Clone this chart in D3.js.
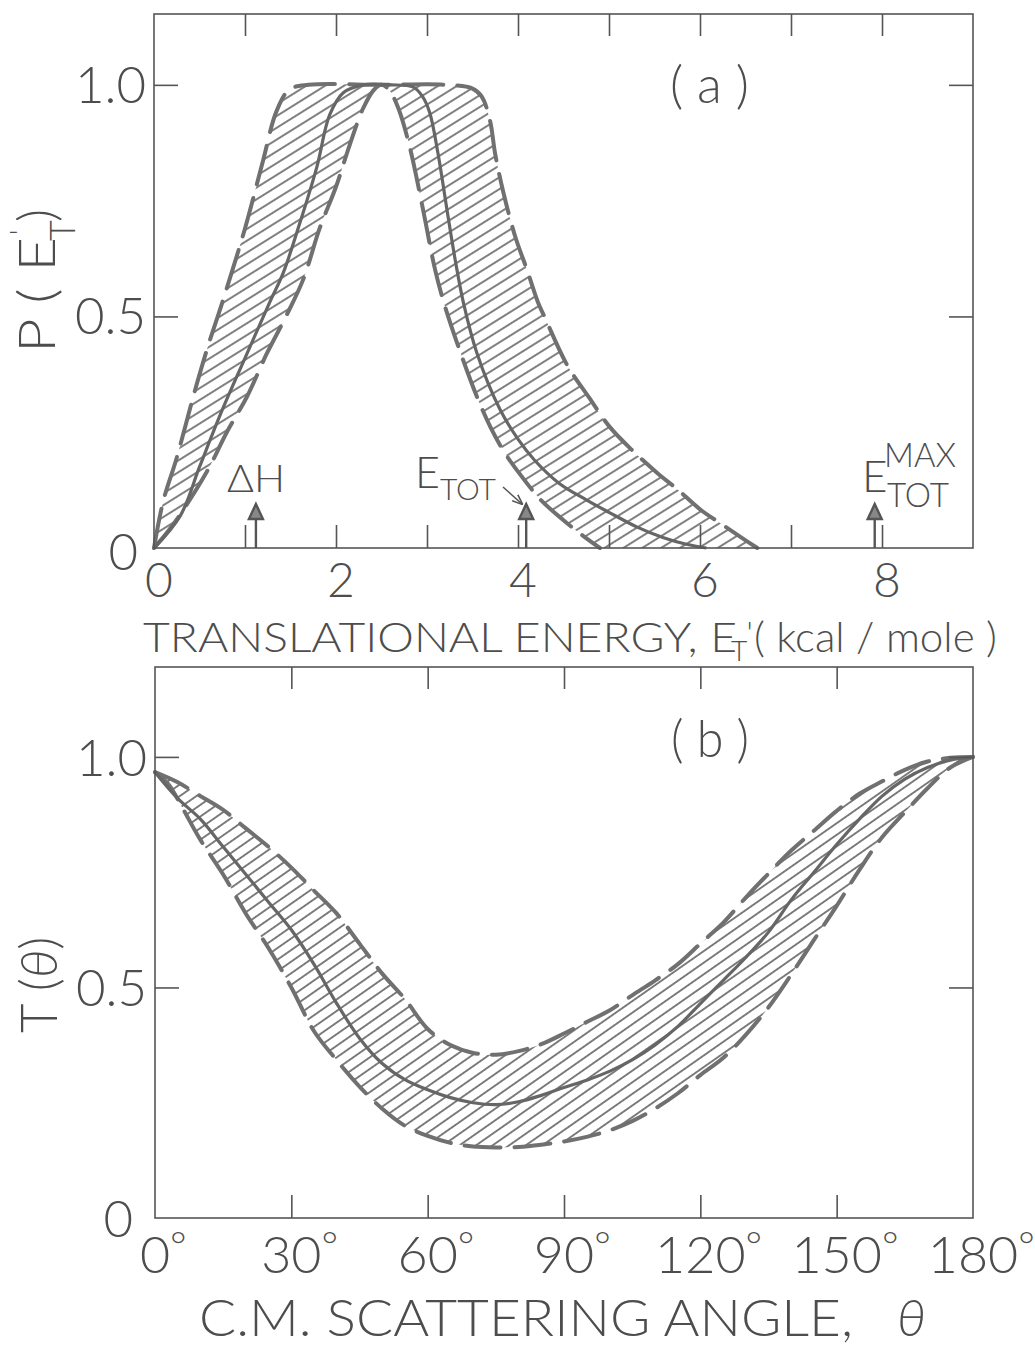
<!DOCTYPE html>
<html>
<head>
<meta charset="utf-8">
<title>P(E'T) and T(theta)</title>
<script src="https://cdn.jsdelivr.net/npm/d3@7"></script>
<style>
  html, body { margin: 0; padding: 0; background: #fff; }
  svg { display: block; }
  text { font-family: "Lato", "Open Sans", sans-serif; font-weight: 300; fill: #4d4d4d; }
  .frame { fill: none; stroke: #555; stroke-width: 1.6; }
  .tick line { stroke: #555; stroke-width: 1.6; }
  .domain { display: none; }
  .bound { fill: none; stroke: #707070; stroke-width: 4; stroke-linecap: round; }
  .best { fill: none; stroke: #666; stroke-width: 3.2; }
  .arrow { stroke: #555; stroke-width: 2.4; fill: #888; }
</style>
</head>
<body>
<svg id="chart" width="1035" height="1349"></svg>
<script>
/*
  two stacked panels:
  (a) P(E'T) vs translational energy, hatched band between two dashed bounds + best fit
  (b) T(theta) vs c.m. scattering angle, same style
*/

// ---- panel (a) data ----
var energyTicks = [0, 2, 4, 6, 8];
var energyMinor = [1, 2, 3, 4, 5, 6, 7, 8];
var probTicks = [0.5, 1.0];
var probLabels = [0, 0.5, 1.0];
// [E'T, P] upper (outer) dashed bound
var pOuter = [[0, 0], [0.1, 0.1], [0.25, 0.195], [0.45, 0.34], [0.6, 0.44], [0.75, 0.53],
  [1.0, 0.69], [1.19, 0.83], [1.35, 0.945], [1.49, 0.99], [1.7, 1.0], [2.5, 1.0], [3.22, 1.0],
  [3.5, 0.992], [3.6, 0.975], [3.69, 0.925], [3.75, 0.85], [3.84, 0.767], [3.97, 0.672],
  [4.1, 0.6], [4.22, 0.53], [4.29, 0.5], [4.54, 0.395], [4.78, 0.325], [5.01, 0.261],
  [5.25, 0.212], [5.53, 0.162], [5.75, 0.127], [6.01, 0.082], [6.25, 0.05], [6.46, 0.022], [6.63, 0]];
// [E'T, P] lower (inner) dashed bound
var pInner = [[0, 0], [0.15, 0.035], [0.32, 0.082], [0.59, 0.168], [0.8, 0.25], [1.02, 0.326],
  [1.24, 0.42], [1.45, 0.5], [1.64, 0.58], [1.82, 0.69], [2.0, 0.78], [2.15, 0.87], [2.3, 0.95],
  [2.42, 0.99], [2.5, 1.0], [2.58, 0.99], [2.68, 0.952], [2.81, 0.866], [2.95, 0.737], [3.09, 0.6],
  [3.2, 0.52], [3.33, 0.443], [3.55, 0.326], [3.7, 0.26], [3.84, 0.21], [4.0, 0.165], [4.25, 0.104],
  [4.5, 0.06], [4.73, 0.024], [4.9, 0]];
// [E'T, P] best fit (solid)
var pBest = [[0, 0], [0.29, 0.07], [0.5, 0.175], [0.75, 0.298], [1.0, 0.41], [1.27, 0.53],
  [1.42, 0.594], [1.6, 0.7], [1.79, 0.823], [1.93, 0.935], [2.08, 0.983], [2.3, 1.0], [2.6, 1.0],
  [2.85, 0.995], [2.95, 0.975], [3.03, 0.94], [3.12, 0.853], [3.22, 0.73], [3.31, 0.622],
  [3.4, 0.53], [3.55, 0.42], [3.8, 0.3], [4.0, 0.235], [4.18, 0.19], [4.45, 0.14], [4.75, 0.104],
  [5.0, 0.077], [5.31, 0.045], [5.6, 0.022], [5.85, 0.008], [6.07, 0]];
// energy markers: dH, E_TOT, E_TOT^MAX
var arrowEnergies = [1.12, 4.09, 7.92];

// ---- panel (b) data ----
var angleTicks = [0, 30, 60, 90, 120, 150, 180];
var angleMinor = [30, 60, 90, 120, 150];
// [theta (deg), T]
var tUpper = [[0, 0.967], [5, 0.945], [10, 0.915], [15, 0.885], [20, 0.845], [25, 0.805],
  [30, 0.76], [35, 0.71], [40, 0.66], [45, 0.595], [50, 0.53], [55, 0.475], [60, 0.41],
  [65, 0.375], [70, 0.358], [75, 0.354], [80, 0.362], [85, 0.377], [90, 0.4], [95, 0.425],
  [100, 0.45], [105, 0.483], [110, 0.515], [115, 0.55], [120, 0.595], [125, 0.64], [130, 0.695],
  [135, 0.747], [140, 0.797], [145, 0.84], [150, 0.883], [155, 0.92], [160, 0.947],
  [165, 0.972], [170, 0.99], [175, 0.998], [180, 1.0]];
var tLower = [[0, 0.967], [3, 0.94], [6, 0.89], [10, 0.82], [15, 0.745], [20, 0.66], [25, 0.585],
  [30, 0.5], [35, 0.405], [40, 0.342], [45, 0.285], [50, 0.237], [55, 0.2], [60, 0.178],
  [65, 0.163], [70, 0.155], [75, 0.153], [80, 0.154], [85, 0.159], [90, 0.166], [95, 0.176],
  [100, 0.19], [105, 0.21], [110, 0.237], [115, 0.27], [120, 0.31], [125, 0.347], [130, 0.397],
  [135, 0.457], [140, 0.528], [145, 0.603], [150, 0.677], [155, 0.755], [160, 0.826],
  [165, 0.88], [170, 0.932], [175, 0.977], [180, 1.0]];
var tBest = [[0, 0.967], [5, 0.91], [10, 0.865], [15, 0.805], [20, 0.745], [25, 0.685],
  [30, 0.625], [35, 0.55], [40, 0.465], [45, 0.39], [50, 0.335], [55, 0.3], [60, 0.278],
  [65, 0.261], [70, 0.25], [75, 0.246], [80, 0.252], [85, 0.266], [90, 0.283], [95, 0.299],
  [100, 0.318], [105, 0.343], [110, 0.375], [115, 0.415], [120, 0.465], [125, 0.515],
  [130, 0.565], [135, 0.62], [140, 0.69], [145, 0.75], [150, 0.81], [155, 0.865], [160, 0.915],
  [165, 0.952], [170, 0.977], [175, 0.993], [180, 1.0]];

var svg = d3.select("#chart");
var defs = svg.append("defs");

function addHatch(id, angle, gap) {
    var p = defs.append("pattern")
        .attr("id", id)
        .attr("patternUnits", "userSpaceOnUse")
        .attr("width", gap).attr("height", gap)
        .attr("patternTransform", "rotate(" + (-angle) + ")");
    p.append("line")
        .attr("x1", 0).attr("y1", gap / 2).attr("x2", gap).attr("y2", gap / 2)
        .attr("stroke", "#3a3a3a").attr("stroke-width", 1.3);
}
addHatch("hatchA", 32, 10);
addHatch("hatchB", 35, 9.5);

defs.append("marker")
    .attr("id", "head")
    .attr("viewBox", "0 0 10 10")
    .attr("refX", 9).attr("refY", 5)
    .attr("markerWidth", 7).attr("markerHeight", 7)
    .attr("orient", "auto")
    .append("path").attr("d", "M0,1L10,5L0,9").attr("fill", "none").attr("stroke", "#555").attr("stroke-width", 1.5);

// hatched region = upper curve forward + lower curve backward
function bandPath(line, upper, lower) {
    return line(upper) + line(lower.slice().reverse()).replace(/^M/, "L") + "Z";
}

function drawCurves(g, line, upper, lower, best, hatchId, dash) {
    g.append("path").attr("d", bandPath(line, upper, lower)).attr("fill", "url(#" + hatchId + ")");
    [upper, lower].forEach(function (c) {
        g.append("path").attr("class", "bound").attr("stroke-dasharray", dash).attr("d", line(c));
    });
    g.append("path").attr("class", "best").attr("d", line(best));
}

function drawFrame(g, x, y, xTicks, yTicks) {
    var x0 = x.range()[0], x1 = x.range()[1], y0 = y.range()[0], y1 = y.range()[1];
    g.append("rect").attr("class", "frame")
        .attr("x", x0).attr("y", y1).attr("width", x1 - x0).attr("height", y0 - y1);
    g.append("g").attr("transform", "translate(0," + y0 + ")")
        .call(d3.axisBottom(x).tickValues(xTicks).tickSize(-23).tickFormat(""));
    g.append("g").attr("transform", "translate(0," + y1 + ")")
        .call(d3.axisTop(x).tickValues(xTicks).tickSize(-22).tickFormat(""));
    g.append("g").attr("transform", "translate(" + x0 + ",0)")
        .call(d3.axisLeft(y).tickValues(yTicks).tickSize(-24).tickFormat(""));
    g.append("g").attr("transform", "translate(" + x1 + ",0)")
        .call(d3.axisRight(y).tickValues(yTicks).tickSize(-24).tickFormat(""));
}

// ================= panel (a) =================
var xA = d3.scaleLinear().domain([0, 9]).range([154, 973]);
var yA = d3.scaleLinear().domain([0, 1.153]).range([548, 14]);
var lineA = d3.line()
    .x(function (d) { return xA(d[0]); })
    .y(function (d) { return yA(d[1]); })
    .curve(d3.curveCatmullRom.alpha(0.5));

var gA = svg.append("g");
drawCurves(gA, lineA, pOuter, pInner, pBest, "hatchA", "40 14");
drawFrame(gA, xA, yA, energyMinor, probTicks);

gA.append("g").selectAll("text").data(energyTicks).join("text")
    .attr("x", function (d) { return xA(d) + 5; })
    .attr("y", yA(0) + 49)
    .attr("text-anchor", "middle")
    .attr("font-size", 48)
    .text(function (d) { return d; });

gA.append("g").selectAll("text").data(probLabels).join("text")
    .attr("x", function (d) { return d === 0 ? xA(0) - 16 : xA(0) - 8; })
    .attr("y", function (d) { return d === 0 ? yA(0) + 22 : yA(d) + 18; })
    .attr("text-anchor", "end")
    .attr("font-size", 51)
    .text(function (d) { return d === 0 ? "0" : d.toFixed(1); });

// marker arrows on the energy axis
gA.append("g").selectAll("g").data(arrowEnergies).join("g")
    .each(function (d) {
        var g = d3.select(this), x = xA(d), base = yA(0), tip = yA(0) - 44;
        g.append("line").attr("class", "arrow").attr("x1", x).attr("x2", x).attr("y1", base).attr("y2", tip + 12);
        g.append("path").attr("class", "arrow").attr("stroke-width", 1.5)
            .attr("d", "M" + x + "," + tip + "L" + (x - 7) + "," + (tip + 15) + "L" + (x + 7) + "," + (tip + 15) + "Z");
    });

gA.append("text").attr("x", 227).attr("y", 492).attr("font-size", 37)
    .attr("textLength", 58).attr("lengthAdjust", "spacingAndGlyphs").text("\u0394H");
var eTot = gA.append("text").attr("x", 415).attr("y", 488).attr("font-size", 43);
eTot.append("tspan").text("E");
eTot.append("tspan").attr("font-size", 30).attr("dy", 12).text("TOT");
gA.append("line").attr("x1", 503).attr("y1", 487).attr("x2", 522).attr("y2", 504)
    .attr("stroke", "#555").attr("stroke-width", 1.5).attr("marker-end", "url(#head)");
gA.append("text").attr("x", 862).attr("y", 492).attr("font-size", 44).text("E");
gA.append("text").attr("x", 884).attr("y", 467).attr("font-size", 34)
    .attr("textLength", 72).attr("lengthAdjust", "spacingAndGlyphs").text("MAX");
gA.append("text").attr("x", 887).attr("y", 507).attr("font-size", 34)
    .attr("textLength", 62).attr("lengthAdjust", "spacingAndGlyphs").text("TOT");

gA.append("text").attr("x", 670).attr("y", 103).attr("font-size", 52)
    .attr("textLength", 79).attr("lengthAdjust", "spacingAndGlyphs").text("( a )");

// axis title, one text: E'T with subscript T and the prime tucked up beside it
var titleA = gA.append("text").attr("x", 143).attr("y", 652).attr("font-size", 42);
titleA.append("tspan").attr("textLength", 594).attr("lengthAdjust", "spacingAndGlyphs").text("TRANSLATIONAL ENERGY, E");
titleA.append("tspan").attr("x", 731).attr("dy", 9).attr("font-size", 28).text("T");
titleA.append("tspan").attr("x", 746.5).attr("dy", -17).attr("font-size", 32).text("'");
titleA.append("tspan").attr("x", 754).attr("y", 652)
    .attr("textLength", 243).attr("lengthAdjust", "spacingAndGlyphs").text("( kcal / mole )");

var yLabA = gA.append("g").attr("transform", "translate(55,353) rotate(-90)");
yLabA.append("text").attr("font-size", 51).attr("textLength", 116)
    .attr("lengthAdjust", "spacingAndGlyphs").text("P ( E");
var subY = yLabA.append("text").attr("x", 112).attr("y", 20).attr("font-size", 36);
subY.append("tspan").text("T");
subY.append("tspan").attr("dx", -15).attr("dy", -44).attr("font-size", 30).text("'");
yLabA.append("text").attr("x", 131).attr("font-size", 51).text(")");

// ================= panel (b) =================
var xB = d3.scaleLinear().domain([0, 180]).range([155, 973]);
var yB = d3.scaleLinear().domain([0, 1.195]).range([1218, 667]);
var lineB = d3.line()
    .x(function (d) { return xB(d[0]); })
    .y(function (d) { return yB(d[1]); })
    .curve(d3.curveCatmullRom.alpha(0.5));

var gB = svg.append("g");
drawCurves(gB, lineB, tUpper, tLower, tBest, "hatchB", "36 14");
drawFrame(gB, xB, yB, angleMinor, probTicks);

// angle labels: digits centred on the tick, degree sign raised just after them
var angLab = gB.append("g").selectAll("g").data(angleTicks).join("g");
angLab.each(function (d) {
    var g = d3.select(this);
    var num = g.append("text")
        .attr("x", xB(d)).attr("y", yB(0) + 55)
        .attr("text-anchor", "middle")
        .attr("font-size", 52)
        .text(d);
    var w = num.node().getComputedTextLength();
    g.append("text")
        .attr("x", xB(d) + w / 2).attr("y", yB(0) + 42)
        .attr("font-size", 40)
        .text("\u00b0");
});

gB.append("g").selectAll("text").data(probLabels).join("text")
    .attr("x", function (d) { return d === 0 ? xB(0) - 22 : xB(0) - 8; })
    .attr("y", function (d) { return yB(d) + 19; })
    .attr("text-anchor", "end")
    .attr("font-size", 51)
    .text(function (d) { return d === 0 ? "0" : d.toFixed(1); });

gB.append("text").attr("x", 671).attr("y", 757).attr("font-size", 52)
    .attr("textLength", 78).attr("lengthAdjust", "spacingAndGlyphs").text("( b )");

gB.append("text").attr("x", 199).attr("y", 1336).attr("font-size", 52)
    .attr("textLength", 654).attr("lengthAdjust", "spacingAndGlyphs").text("C.M. SCATTERING ANGLE,");
gB.append("text").attr("x", 897).attr("y", 1336).attr("font-size", 52)
    .attr("font-style", "italic").text("\u03b8");

var yLabB = gB.append("g").attr("transform", "translate(57,1033) rotate(-90)");
var yLabBText = yLabB.append("text").attr("font-size", 51);
yLabBText.append("tspan").text("T (");
yLabBText.append("tspan").attr("font-style", "italic").text("\u03b8");
yLabBText.append("tspan").text(")");
</script>
</body>
</html>
